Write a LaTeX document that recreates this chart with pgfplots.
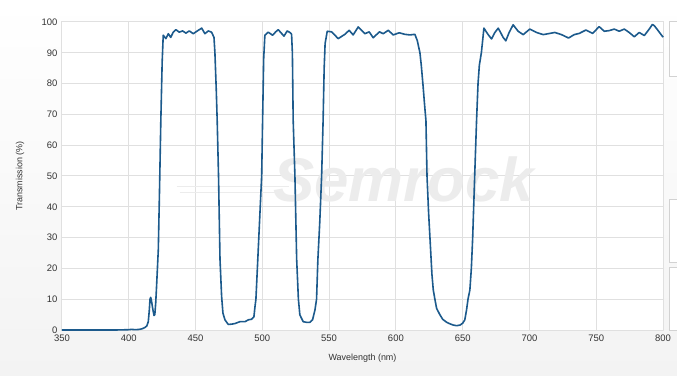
\documentclass[border=0pt]{standalone}
\usepackage{pgfplots}
\pgfplotsset{compat=1.18}
\usepackage{fontspec}
\setmainfont{Liberation Sans}
\definecolor{curve}{RGB}{28,90,140}
\definecolor{gridc}{RGB}{224,224,224}
\definecolor{tickc}{RGB}{51,51,51}
\definecolor{wm}{RGB}{236,236,236}
\definecolor{boxc}{RGB}{210,210,210}
\begin{document}
\begin{tikzpicture}
\path[use as bounding box] (-62bp,-46bp) rectangle (615bp,330bp);
\shade[top color=white, bottom color={rgb,255:red,243;green,243;blue,243}] (-62bp,-46bp) rectangle (615bp,330bp);
\begin{axis}[
  at={(0bp,0bp)}, anchor=south west,
  scale only axis, width=601bp, height=308bp,
  xmin=350, xmax=800, ymin=0, ymax=100,
  xtick={350,400,...,800}, ytick={0,10,...,100},
  axis background/.style={fill=white},
  grid=major, major grid style={draw=gridc, line width=1bp},
  axis line style={draw=gridc, line width=1bp},
  major tick length=0pt, tick style={draw=none},
  /pgf/number format/assume math mode=true,
  tick label style={font=\fontsize{9.5}{11}\selectfont, text=tickc},
  xticklabel style={yshift=-1bp},
  yticklabel style={xshift=-1bp},
  label style={font=\fontsize{9}{11}\selectfont, text=tickc},
  xlabel={Wavelength (nm)},
  ylabel={Transmission (\%)},
  xlabel style={at={([yshift=-28bp]axis description cs:0.5,0)}, anchor=center},
  ylabel style={at={([xshift=-42bp]axis description cs:0,0.5)}, anchor=center},
  clip=false,
]
\node[text=wm, font=\fontsize{62}{62}\selectfont\bfseries\itshape] at (axis cs:606,49) {Semrock};
\draw[wm, line width=1.5bp] (axis cs:436,46.6) -- (axis cs:520,46.6);
\draw[wm, line width=1.5bp] (axis cs:438,44.6) -- (axis cs:516,44.6);
\addplot[curve, line width=1.6bp, line join=round, mark=none] coordinates {
(350,0) (360,0) (370,0) (380,0) (390,0) (395,0.05) (400,0.1) (402,0.2) (405,0.1) (408,0.2)
(410,0.4) (412,0.8) (413.5,1.3) (414.6,2.7) (415.3,6) (415.9,10) (416.4,10.6) (417,9.5)
(417.9,7) (418.9,4.7) (419.5,5) (420.2,9) (420.9,15) (422.1,26) (423,45) (424,68) (425,87)
(425.8,95.7) (427.8,94.6) (429.6,96.2) (431.4,95) (433.3,96.7) (435.3,97.5) (437.8,96.7)
(440.3,97.1) (442.8,96.4) (445.3,97.1) (448.3,96.2) (451.3,97.1) (454.6,98) (457,96.2)
(459.5,97.1) (462,96.7) (463.8,95) (464.5,90) (465.5,78) (466.2,68) (467.2,50) (468.3,23)
(469.5,11) (470.5,5.5) (472,3.3) (474.5,1.8) (477,1.9) (479.5,2.1) (483.2,2.7) (487,2.7)
(489.5,3.3) (492,3.5) (493.7,4.3) (494.5,7.6) (495.2,10) (496.5,22) (498,36) (499.5,50)
(500.2,68) (501,88) (501.9,95.7) (504.4,96.7) (507.7,95.7) (510,96.8) (511.9,97.5) (514,96.5)
(516.2,95.4) (518.6,97.1) (521,96.5) (521.9,96) (522.5,90) (523.1,68) (524.4,50) (525.7,23)
(527,10) (528.1,4.9) (530.6,2.7) (533,2.5) (535.6,2.5) (537.6,3.3) (539.4,6.5) (540.6,10)
(541.6,23) (543,35) (544.4,50) (545.5,68) (546.3,85) (547,93) (548.6,97) (551.9,96.8)
(556.8,94.6) (561.8,96) (565,97.3) (568,95.8) (571.8,98.4) (576.8,96.2) (580,96.8) (583,94.9)
(587.7,96.8) (590.5,96.2) (594.3,97.3) (598,95.8) (602.5,96.5) (606.7,96) (610.5,95.8)
(614.2,96) (616,94) (618,90) (619,86) (620.4,79) (621.5,73) (622.5,68) (623.3,50) (624.5,38)
(626,26) (627,18) (628,13) (629.2,10) (630.5,7) (632.9,5) (635,3.5) (638,2.5) (640.5,2)
(643,1.6) (645.5,1.4) (648,1.6) (650,2.2) (651.6,3.3) (652.9,6.5) (654,10) (655.4,13)
(656.5,20) (657.5,30) (659,50) (660.4,68) (661.5,80) (662.5,86) (664,90) (665.2,95) (665.9,98)
(669.1,95.9) (671.6,94.5) (674,96.5) (676.6,98) (678.5,96.5) (680.3,95) (682.3,93.9)
(684.8,96.6) (687.8,99.1) (691.5,97) (695.3,95.9) (700.3,97.7) (705.3,96.6) (710.3,95.9)
(715.3,96.3) (719,96.6) (724,95.9) (729.3,94.8) (733.5,95.9) (737.3,96.3) (742.3,97.4)
(747.3,96.3) (752.2,98.5) (756,97) (759.7,97.2) (763.5,97.7) (767.2,97) (771,97.7)
(774.7,96.6) (778.5,95.2) (782.2,96.6) (786,95.6) (789.7,97.7) (792,99.2) (793.5,98.8)
(796,97.4) (799.8,95.2) (800,95.5)
};
\end{axis}
\foreach \ya/\yb in {308/253, 130/67, 62/0} {
  \fill[white] (607bp,\ya bp) rectangle (615bp,\yb bp);
  \draw[boxc, line width=1bp] (615bp,\ya bp) -- (607bp,\ya bp) -- (607bp,\yb bp) -- (615bp,\yb bp);
}
\end{tikzpicture}
\end{document}
